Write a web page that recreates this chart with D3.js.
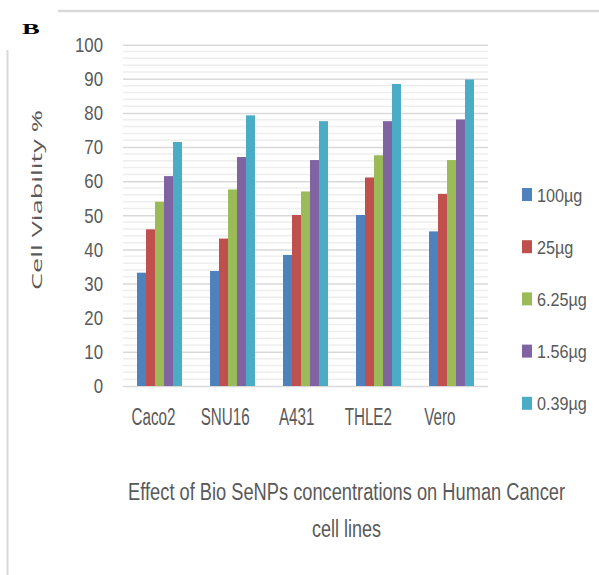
<!DOCTYPE html>
<html>
<head>
<meta charset="utf-8">
<script src="https://cdn.jsdelivr.net/npm/d3@7"></script>
<style>
  body { margin: 0; background: #fff; }
  svg text { fill: #595959; font-family: "Liberation Sans", Arial, sans-serif; }
</style>
</head>
<body>
<div id="chart"></div>
<script>
const cellLines = ['Caco2', 'SNU16', 'A431', 'THLE2', 'Vero'];
const doses = ['100µg', '25µg', '6.25µg', '1.56µg', '0.39µg'];
const dose100 = [33.2, 33.7, 38.4, 50.1, 45.3];
const dose25 = [45.9, 43.2, 50.1, 61.1, 56.3];
const dose625 = [54.0, 57.6, 57.0, 67.6, 66.2];
const dose156 = [61.5, 67.1, 66.2, 77.6, 78.1];
const dose039 = [71.5, 79.3, 77.6, 88.5, 89.8];
const yTicks = [0, 10, 20, 30, 40, 50, 60, 70, 80, 90, 100];
const titleLines = ['Effect of Bio SeNPs concentrations on Human Cancer', 'cell lines'];
const colors = ['#4F81BD', '#C0504D', '#9BBB59', '#8064A2', '#4BACC6'];

const series = [dose100, dose25, dose625, dose156, dose039];

const width = 599, height = 575;
const plot = {left: 123, right: 488, top: 44.7, bottom: 386};

// squeeze text horizontally (the picture's text is tall and narrow)
function condense(sel, k) {
    sel.each(function () {
        const len = this.getComputedTextLength();
        d3.select(this)
            .attr('textLength', len * k)
            .attr('lengthAdjust', 'spacingAndGlyphs');
    });
}
function fitTo(sel, len) {
    sel.attr('textLength', len).attr('lengthAdjust', 'spacingAndGlyphs');
}

const svg = d3.select('#chart').append('svg')
    .attr('width', width)
    .attr('height', height);

// frame lines
svg.append('line')
    .attr('x1', 58).attr('x2', width).attr('y1', 11).attr('y2', 11)
    .attr('stroke', '#d9d9d9').attr('stroke-width', 2.5);
svg.append('line')
    .attr('x1', 7.5).attr('x2', 7.5).attr('y1', 50).attr('y2', 575)
    .attr('stroke', '#d9d9d9').attr('stroke-width', 2);

svg.append('text')
    .attr('transform', 'translate(22,34) scale(1.9,1)')
    .style('font-family', '"Liberation Serif", serif')
    .attr('font-weight', 'bold')
    .attr('font-size', 14)
    .style('fill', '#000')
    .text('B');

const x0 = d3.scaleBand()
    .domain(cellLines)
    .range([plot.left, plot.right])
    .paddingInner(0.384)
    .paddingOuter(0.192);
const x1 = d3.scaleBand()
    .domain(doses)
    .range([0, x0.bandwidth()]);
const y = d3.scaleLinear()
    .domain([0, 100])
    .range([plot.bottom, plot.top]);

// minor grid
const g = svg.append('g');
g.selectAll('.minor')
    .data(d3.range(0, 101, 2).filter(v => v % 10 !== 0))
    .enter().append('line')
    .attr('x1', plot.left).attr('x2', plot.right)
    .attr('y1', d => y(d)).attr('y2', d => y(d))
    .attr('stroke', '#eeeeee').attr('stroke-width', 1.5);

const yAxis = d3.axisLeft(y)
    .tickValues(yTicks)
    .tickSizeInner(-(plot.right - plot.left))
    .tickSizeOuter(0)
    .tickPadding(20);
const ya = g.append('g')
    .attr('transform', `translate(${plot.left},0)`)
    .call(yAxis);
ya.select('.domain').remove();
ya.selectAll('.tick line').attr('stroke', '#d9d9d9').attr('stroke-width', 1.5);
ya.selectAll('.tick text')
    .attr('font-size', 21)
    .style('fill', '#595959')
    .call(condense, 0.8);

// bars
const groups = svg.append('g').selectAll('g')
    .data(cellLines)
    .enter().append('g')
    .attr('transform', d => `translate(${x0(d)},0)`);
groups.selectAll('rect')
    .data((d, i) => series.map((s, k) => ({dose: doses[k], v: s[i], k})))
    .enter().append('rect')
    .attr('x', d => x1(d.dose))
    .attr('width', x1.bandwidth())
    .attr('y', d => y(d.v))
    .attr('height', d => y(0) - y(d.v))
    .attr('fill', d => colors[d.k]);

// category labels
const xAxis = d3.axisBottom(x0).tickSize(0).tickPadding(39);
const xa = svg.append('g')
    .attr('transform', `translate(0,${plot.bottom})`)
    .call(xAxis);
xa.select('.domain').remove();
xa.selectAll('.tick text')
    .attr('font-size', 23)
    .attr('dy', 0)
    .attr('dx', (d, i) => -6 - 1.4 * i)
    .style('fill', '#595959')
    .call(condense, 0.66);

// y label
svg.append('text')
    .attr('transform', 'translate(42,200) rotate(-90)')
    .attr('text-anchor', 'middle')
    .style('font-family', '"Open Sans", sans-serif')
    .attr('font-size', 14)
    .text('Cell Viability %')
    .call(fitTo, 180);

// x title, two lines (tall, narrow letters)
const titleLens = [437, 69];
svg.append('g').selectAll('text')
    .data(titleLines)
    .enter().append('text')
    .attr('transform', (d, i) => `translate(346.6,${500 + i * 37}) scale(1,1.3)`)
    .attr('text-anchor', 'middle')
    .attr('font-size', 19)
    .text(d => d)
    .each(function (d, i) { d3.select(this).call(fitTo, titleLens[i]); });

// legend
const legend = svg.append('g').selectAll('g')
    .data(doses)
    .enter().append('g')
    .attr('transform', (d, i) => `translate(522,${188 + i * 52.2})`);
legend.append('rect')
    .attr('x', 0).attr('y', 0)
    .attr('width', 10).attr('height', 13)
    .attr('fill', (d, i) => colors[i]);
legend.append('text')
    .attr('x', 15).attr('y', 13.5)
    .attr('font-size', 18)
    .text(d => d)
    .call(condense, 0.9);
</script>
</body>
</html>
